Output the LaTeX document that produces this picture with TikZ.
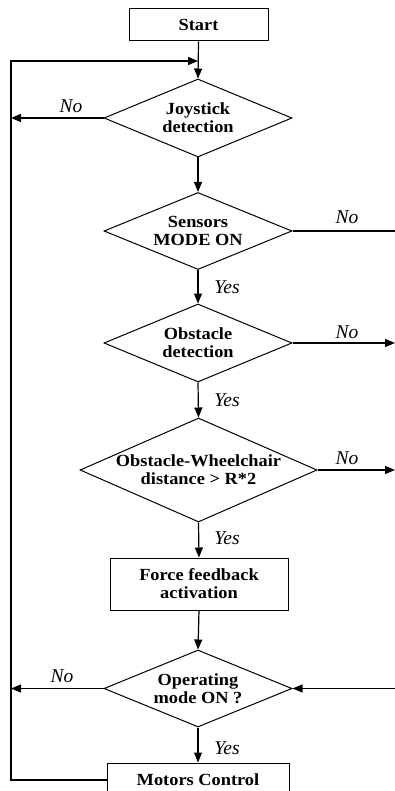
\documentclass[tikz,border=0pt]{standalone}
\usepackage{fontspec}
\setmainfont{Liberation Serif}
\newfontfamily\boxfont{Liberation Serif}[FakeStretch=1.08]
\usetikzlibrary{shapes.geometric,arrows.meta}
\begin{document}
\begin{tikzpicture}[x=1pt,y=-1pt,
  lw/.style={line width=1.2pt},
  flow/.style={lw,-{Triangle[length=10pt,width=8pt]}},
  boxnode/.style={draw,line width=1pt,font=\boxfont\fontsize{17}{18}\selectfont\bfseries,align=center,inner sep=0pt},
  dec/.style={draw,line width=1pt,shape=diamond,inner sep=0pt},
  dtext/.style={font=\boxfont\fontsize{17}{18}\selectfont\bfseries,align=center,inner sep=0pt},
  ans/.style={font=\fontsize{19.5}{20}\selectfont\itshape,inner sep=0pt}]
\clip (0,0) rectangle (395,791);

% process boxes and decisions
\node[boxnode,minimum width=139pt,minimum height=32pt] (start) at (198.5,25) {Start};
\node[dec,minimum width=188pt,minimum height=78pt,
  label={[dtext]center:{Joystick\\detection}}] (J) at (198,118) {};
\node[dec,minimum width=188pt,minimum height=77pt,
  label={[dtext]center:{Sensors\\MODE ON}}] (S) at (198,231) {};
\node[dec,minimum width=188pt,minimum height=78pt,
  label={[dtext]center:{Obstacle\\detection}}] (O) at (198,343) {};
\node[dec,minimum width=237pt,minimum height=104pt,
  label={[dtext]center:{Obstacle-Wheelchair\\distance > R*2}}] (D) at (198.5,470) {};
\node[boxnode,minimum width=178pt,minimum height=52pt] (F) at (199,584) {Force feedback\\activation};
\node[dec,minimum width=188pt,minimum height=77pt,
  label={[dtext]center:{Operating\\mode ON ?}}] (P) at (198,688.5) {};
\node[boxnode,minimum width=182pt,minimum height=34pt] (M) at (198,780) {Motors Control};

% free ends of the connectors
\coordinate (loopTop) at (11,61);
\coordinate (loopBot) at (11,780);
\coordinate (merge) at (198,61);
\coordinate (rightS) at (395,231);
\coordinate (rightO) at (395,343);
\coordinate (rightD) at (395,470);
\coordinate (rightP) at (395,688.5);

% main flow
\draw[flow] (start.south) -- (J.north);
\draw[flow] (J.south) -- (S.north);
\draw[flow] (S.south) -- (O.north);
\draw[flow] (O.south) -- (D.north);
\draw[flow] (D.south) -- (F.north);
\draw[flow] (F.south) -- (P.north);
\draw[flow] (P.south) -- (M.north);

% return loop
\draw[flow] (M.west) -- (loopBot) -- (loopTop) -- (merge);
\draw[flow] (J.west) -- (J.west -| loopTop);
\draw[flow] (P.west) -- (P.west -| loopTop);

% exits to the right
\draw[lw] (S.east) -- (rightS);
\draw[flow] (O.east) -- (rightO);
\draw[flow] (D.east) -- (rightD);
\draw[flow] (rightP) -- (P.east);

% branch labels
\node[ans] (nJ) at (71,106) {No};
\node[ans] (nS) at (347,217) {No};
\node[ans] (yS) at (227,287) {Yes};
\node[ans] (nO) at (347,332) {No};
\node[ans] (yO) at (227,400) {Yes};
\node[ans] (nD) at (347,458) {No};
\node[ans] (yD) at (227,538) {Yes};
\node[ans] (nP) at (62,676) {No};
\node[ans] (yP) at (227,748) {Yes};
\end{tikzpicture}
\end{document}
